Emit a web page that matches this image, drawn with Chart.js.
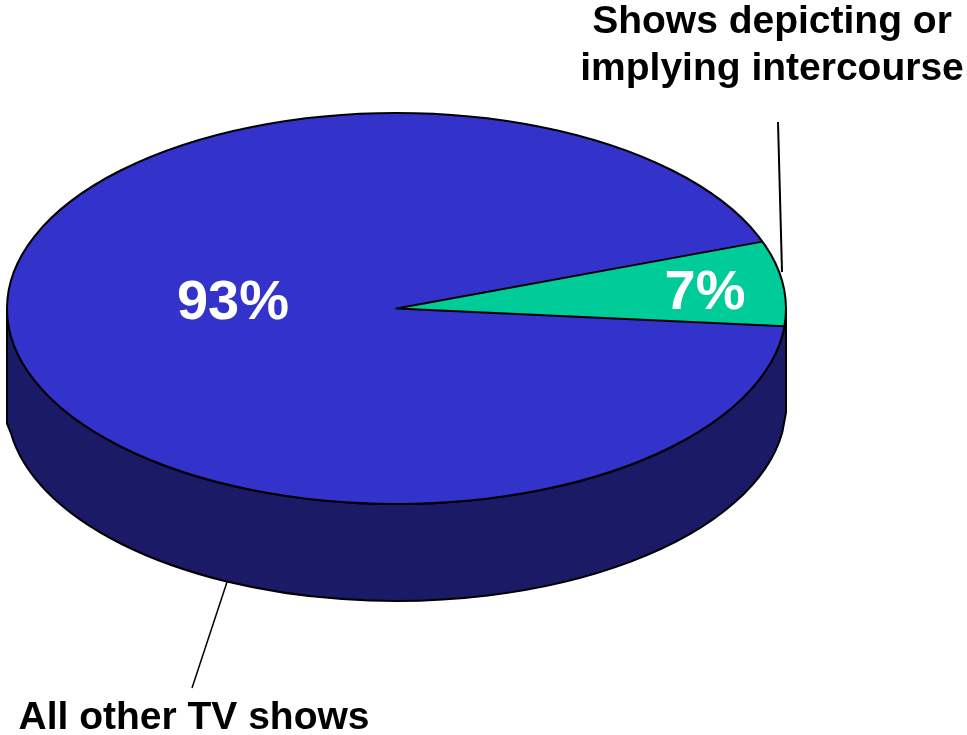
<!DOCTYPE html>
<html>
<head>
<meta charset="utf-8">
<style>
  html, body { margin: 0; padding: 0; background: #fff; overflow: hidden; }
  canvas { display: block; }
</style>
</head>
<body>
<canvas id="pieChart" width="967" height="735"></canvas>
<script src="https://cdn.jsdelivr.net/npm/chart.js@4"></script>
<script>
var categories = ['Shows depicting or implying intercourse', 'All other TV shows'];
var shares = [7, 93];
var sliceColors = ['#00CC99', '#3333CC'];
var sideColor = '#1A1A66';

// where the tilted pie sits on the page
var pieX = 396.5, pieY = 308.5, pieRx = 389.5, pieRy = 195.5, pieDepth = 97;

var font = 'bold 39px "Liberation Sans", Arial, sans-serif';
var bigFont = 'bold 56px "Liberation Sans", Arial, sans-serif';

function drawText(ctx, text, x, y, color, f) {
    ctx.font = f || font;
    ctx.fillStyle = color || '#000';
    ctx.textAlign = 'center';
    ctx.textBaseline = 'middle';
    ctx.fillText(text, x, y);
}

function line(ctx, x1, y1, x2, y2, w) {
    ctx.lineWidth = w;
    ctx.strokeStyle = '#000';
    ctx.beginPath();
    ctx.moveTo(x1, y1);
    ctx.lineTo(x2, y2);
    ctx.stroke();
}

var tiltPlugin = {
    id: 'tilt',
    beforeDatasetsDraw: function (chart) {
        var ctx = chart.ctx;
        var first = chart.getDatasetMeta(0).data[0];

        // side wall of the pie, the walls run a bit past the lower curve
        ctx.save();
        ctx.beginPath();
        ctx.moveTo(pieX + pieRx, pieY);
        ctx.lineTo(pieX + pieRx, pieY + pieDepth + 7);
        ctx.ellipse(pieX, pieY + pieDepth, pieRx, pieRy, 0, 0.14, Math.PI - 0.14);
        ctx.lineTo(pieX - pieRx, pieY + pieDepth + 18);
        ctx.lineTo(pieX - pieRx, pieY);
        ctx.ellipse(pieX, pieY, pieRx, pieRy, 0, Math.PI, 0, true);
        ctx.closePath();
        ctx.fillStyle = sideColor;
        ctx.fill();
        ctx.lineWidth = 2;
        ctx.strokeStyle = '#000';
        ctx.lineJoin = 'round';
        ctx.stroke();
        ctx.restore();

        // squash the round pie that the library draws
        ctx.save();
        ctx.translate(pieX, pieY);
        ctx.scale(pieRx / first.outerRadius, pieRy / first.outerRadius);
        ctx.translate(-first.x, -first.y);
    },
    afterDatasetsDraw: function (chart) {
        var ctx = chart.ctx;
        var arcs = chart.getDatasetMeta(0).data;
        ctx.restore();

        // outlines
        ctx.lineWidth = 2;
        ctx.strokeStyle = '#000';
        ctx.lineJoin = 'round';
        ctx.beginPath();
        ctx.ellipse(pieX, pieY, pieRx, pieRy, 0, 0, Math.PI * 2);
        ctx.stroke();
        ctx.beginPath();
        ctx.moveTo(pieX + pieRx * Math.cos(arcs[0].startAngle), pieY + pieRy * Math.sin(arcs[0].startAngle));
        ctx.lineTo(pieX, pieY);
        ctx.lineTo(pieX + pieRx * Math.cos(arcs[0].endAngle), pieY + pieRy * Math.sin(arcs[0].endAngle));
        ctx.stroke();

        // leader lines
        line(ctx, 778, 122, 782, 272, 2);
        line(ctx, 227, 582, 192, 688, 1.5);

        // labels
        drawText(ctx, 'Shows depicting or', 772, 22);
        drawText(ctx, 'implying intercourse', 772, 69);
        drawText(ctx, categories[1], 194, 718);
        drawText(ctx, shares[0] + '%', 705, 294, '#fff', bigFont);
        drawText(ctx, shares[1] + '%', 233, 304, '#fff', bigFont);
    }
};

var ctx = document.getElementById('pieChart').getContext('2d');
var pieChart = new Chart(ctx, {
    type: 'pie',
    data: {
        labels: categories,
        datasets: [
            {
                data: shares,
                backgroundColor: sliceColors,
                borderWidth: 0,
                clip: false
            }
        ]
    },
    options: {
        responsive: false,
        animation: false,
        rotation: 70,
        events: [],
        plugins: {
            legend: { display: false },
            tooltip: { enabled: false }
        }
    },
    plugins: [tiltPlugin]
});
</script>
</body>
</html>
